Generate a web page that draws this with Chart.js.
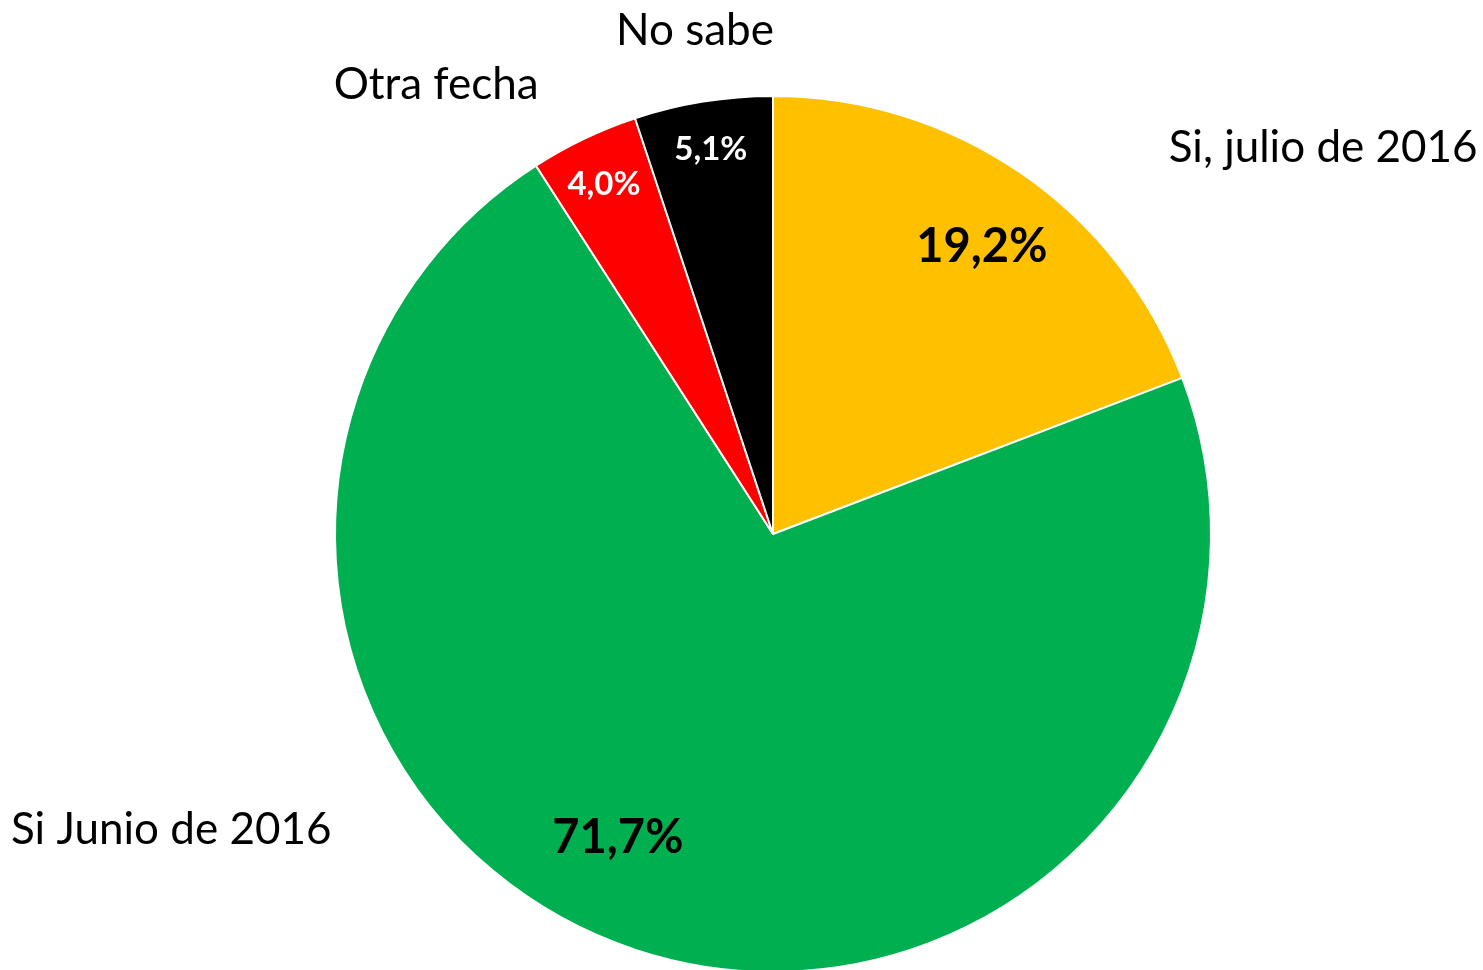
<!DOCTYPE html>
<html>
<head>
<meta charset="utf-8">
<script src="https://cdn.jsdelivr.net/npm/chart.js@4"></script>
<style>
  html, body { margin: 0; padding: 0; background: #fff; overflow: hidden; }
  #wrap { width: 1483px; height: 976px; }
</style>
</head>
<body>
<div id="wrap"><canvas id="pie" width="1483" height="976"></canvas></div>
<script>
const categories = ['Si, julio de 2016', 'Si Junio de 2016', 'Otra fecha', 'No sabe'];
const values = [19.2, 71.7, 4.0, 5.1];
const colors = ['#FFC000', '#00B050', '#FF0000', '#000000'];
const valueColors = ['#000', '#000', '#fff', '#fff'];

// label spots, in units of the pie radius from its centre
const valuePos = [[0.477, -0.655], [-0.354, 0.694], [-0.386, -0.799], [-0.142, -0.879]];
const namePos = [[1.256, -0.881], [-1.374, 0.676], [-0.769, -1.025], [-0.178, -1.148]];
const valueSize = [47, 47, 33, 33];

const FONT = 'Lato, "Open Sans", sans-serif';

const pieLabels = {
  id: 'pieLabels',
  afterDatasetsDraw(chart) {
    const c = chart.ctx;
    const arcs = chart.getDatasetMeta(0).data;
    const cx = arcs[0].x, cy = arcs[0].y, r = arcs[0].outerRadius;
    c.save();
    c.textAlign = 'center';
    c.textBaseline = 'middle';
    arcs.forEach((arc, i) => {
      c.font = 'bold ' + valueSize[i] + 'px ' + FONT;
      c.fillStyle = valueColors[i];
      c.fillText(values[i].toFixed(1).replace('.', ',') + '%', cx + valuePos[i][0] * r, cy + valuePos[i][1] * r);
      c.font = '44px ' + FONT;
      c.fillStyle = '#000';
      c.fillText(categories[i], cx + namePos[i][0] * r, cy + namePos[i][1] * r);
    });
    c.restore();
  }
};

const ctx = document.getElementById('pie');

new Chart(ctx, {
  type: 'pie',
  data: {
    labels: categories,
    datasets: [{
      data: values,
      backgroundColor: colors,
      borderColor: '#fff',
      borderWidth: 2
    }]
  },
  options: {
    responsive: false,
    animation: false,
    layout: {
      padding: { top: 95, bottom: 3, left: 63, right: 0 }
    },
    plugins: {
      legend: { display: false },
      tooltip: { enabled: false }
    }
  },
  plugins: [pieLabels]
});
</script>
</body>
</html>
